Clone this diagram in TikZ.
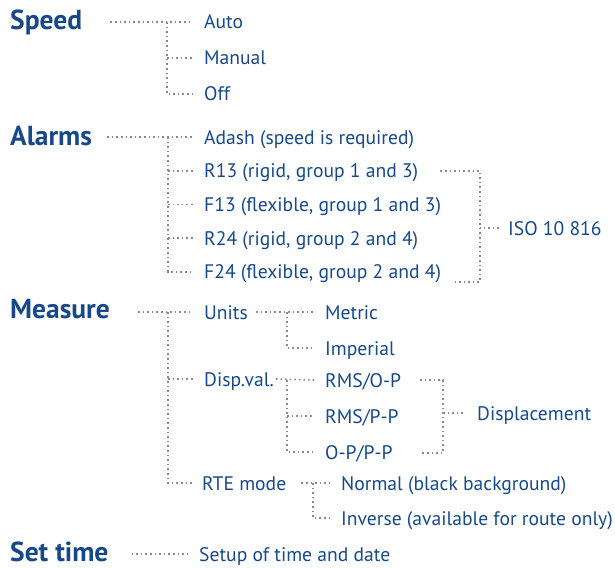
\documentclass[tikz,border=0pt]{standalone}
\usepackage{fontspec}
\setmainfont{PT Sans}
\usepackage{tikz}
\usetikzlibrary{calc,positioning}
\definecolor{menublue}{HTML}{17498A}
\definecolor{dotgray}{HTML}{8A8A8A}
\tikzstyle{head}=[anchor=west, inner sep=0, text height=19pt, text depth=0pt, font=\fontsize{27.5}{27.5}\selectfont\bfseries, text=menublue]
\tikzstyle{leaf}=[anchor=west, inner xsep=11pt, inner ysep=0, text height=14pt, text depth=0pt, font=\fontsize{19.6}{19.6}\selectfont, text=menublue]
\tikzstyle{link}=[dotgray, line width=1.6pt, dash pattern=on 1.6pt off 3pt]

\begin{document}
\begin{tikzpicture}[x=1pt,y=-1pt]
        \useasboundingbox (0,0) rectangle (615,567);

        \node[head] (speed) at (10,20) {Speed};
        \node[leaf] (auto) at (193,22) {Auto};
        \node[leaf, below=36pt of auto.west, anchor=west] (manual) {Manual};
        \node[leaf, below=36pt of manual.west, anchor=west] (off) {Off};

        \node[head] (alarms) at (10,136) {Alarms};
        \node[leaf] (adash) at (193,137) {Adash (speed is required)};
        \node[leaf, below=33.7pt of adash.west, anchor=west] (r13) {R13 (rigid, group 1 and 3)};
        \node[leaf, below=33.7pt of r13.west, anchor=west] (f13) {F13 (flexible, group 1 and 3)};
        \node[leaf, below=33.7pt of f13.west, anchor=west] (r24) {R24 (rigid, group 2 and 4)};
        \node[leaf, below=33.7pt of r24.west, anchor=west] (f24) {F24 (flexible, group 2 and 4)};
        \node[leaf, inner xsep=9pt] (iso) at (499,228) {ISO 10 816};

        \node[head] (measure) at (10,309) {Measure};
        \node[leaf] (units) at (193,312) {Units};
        \node[leaf] (dispval) at (193,379) {Disp.val.};
        \node[leaf] (rte) at (191,483) {RTE mode};
        \node[leaf] (metric) at (314,312) {Metric};
        \node[leaf] (imperial) at (314,348) {Imperial};
        \node[leaf] (rmsop) at (314,380) {RMS/O-P};
        \node[leaf] (rmspp) at (314,416) {RMS/P-P};
        \node[leaf] (oppp) at (314,452) {O-P/P-P};
        \node[leaf, inner xsep=14pt] (displ) at (463,413) {Displacement};
        \node[leaf] (normal) at (330,483) {Normal (black background)};
        \node[leaf] (inverse) at (330,518) {Inverse (available for route only)};

        \node[head] (settime) at (10,552) {Set time};
        \node[leaf] (setup) at (188,554) {Setup of time and date};

% Dotted links
        \draw[link] ($(speed.east |- auto.west)+(28,0)$) -- (auto.west);
        \draw[link] ($(auto.west)+(-26,0)$) |- (off.west);
        \draw[link] ($(manual.west)+(-26,0)$) -- (manual.west);

        \draw[link] ($(alarms.east |- adash.west)+(15,0)$) -- (adash.west);
        \draw[link] ($(adash.west)+(-25,0)$) |- (f24.west);
        \draw[link] ($(r13.west)+(-25,0)$) -- (r13.west);
        \draw[link] ($(f13.west)+(-25,0)$) -- (f13.west);
        \draw[link] ($(r24.west)+(-25,0)$) -- (r24.west);
        \draw[link] ($(r13.east)+(11,0)$) -| ($(iso.west)+(-19,54)$) -- ++(-25,0);
        \draw[link] (iso.west) -- ++(-19,0);

        \draw[link] ($(measure.east |- units.west)+(28,0)$) -- (units.west);
        \draw[link] ($(units.west)+(-25,0)$) |- ($(rte.west)+(2,0)$);
        \draw[link] ($(dispval.west)+(-25,0)$) -- (dispval.west);
        \draw[link] ($(units.east)+(-3,0)$) -- (metric.west);
        \draw[link] ($(metric.west)+(-27,0)$) |- (imperial.west);
        \draw[link] ($(dispval.east)+(-9,0)$) -- (rmsop.west);
        \draw[link] ($(rmsop.west)+(-27,0)$) |- (oppp.west);
        \draw[link] ($(rmspp.west)+(-27,0)$) -- (rmspp.west);
        \draw[link] ($(displ.west)+(-43,-33)$) -| ($(displ.west)+(-20,40)$) -- ++(-22,0);
        \draw[link] (displ.west) -- ++(-20,0);
        \draw[link] ($(rte.east)+(4,0)$) -- (normal.west);
        \draw[link] ($(normal.west)+(-17,0)$) |- (inverse.west);

        \draw[link] ($(settime.east |- setup.west)+(23,0)$) -- (setup.west);

\end{tikzpicture}
\end{document}
